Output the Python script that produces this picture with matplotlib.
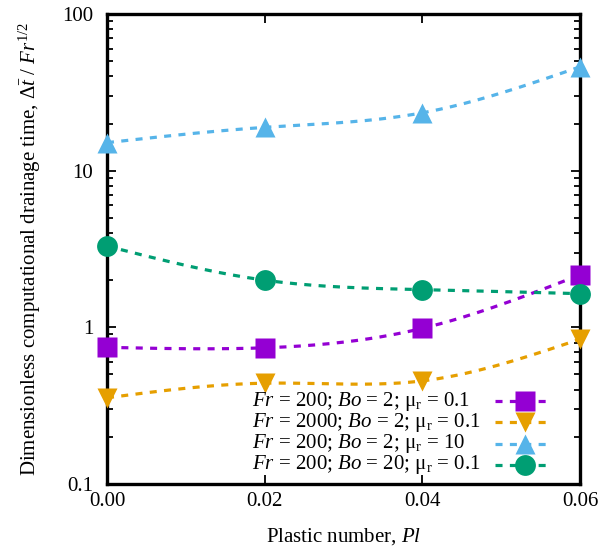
import numpy as np
import matplotlib.pyplot as plt
from matplotlib.ticker import LogLocator, FixedLocator, NullFormatter

# data
pl = [0.00, 0.02, 0.04, 0.06]
t_fr200_bo2 = [0.745, 0.74, 0.985, 2.16]
t_fr2000_bo2 = [0.355, 0.44, 0.455, 0.84]
t_mu10 = [15.1, 18.9, 23.4, 46.0]
t_bo20 = [3.30, 2.00, 1.74, 1.64]

labels = [r'$\it{Fr}$ = 200; $\it{Bo}$ = 2; $\mathrm{\mu_r}$ = 0.1',
          r'$\it{Fr}$ = 2000; $\it{Bo}$ = 2; $\mathrm{\mu_r}$ = 0.1',
          r'$\it{Fr}$ = 200; $\it{Bo}$ = 2; $\mathrm{\mu_r}$ = 10',
          r'$\it{Fr}$ = 200; $\it{Bo}$ = 20; $\mathrm{\mu_r}$ = 0.1']

# gnuplot-ish colours
col_purple = '#9400D3'
col_orange = '#E69F00'
col_blue = '#56B4E9'
col_green = '#009E73'

plt.rcParams.update({'font.family': 'Liberation Serif', 'font.size': 15,
                     'mathtext.fontset': 'custom',
                     'mathtext.rm': 'Liberation Serif',
                     'mathtext.it': 'Liberation Serif:italic',
                     'mathtext.bf': 'Liberation Serif:bold'})


def csplines(x, y, n=200):
    # natural cubic spline through the points (smooth csplines in gnuplot)
    x = np.asarray(x, float)
    y = np.asarray(y, float)
    k = len(x)
    h = np.diff(x)
    A = np.zeros((k, k))
    b = np.zeros(k)
    A[0, 0] = A[-1, -1] = 1
    for i in range(1, k - 1):
        A[i, i - 1] = h[i - 1]
        A[i, i] = 2 * (h[i - 1] + h[i])
        A[i, i + 1] = h[i]
        b[i] = 6 * ((y[i + 1] - y[i]) / h[i] - (y[i] - y[i - 1]) / h[i - 1])
    M = np.linalg.solve(A, b)
    xs = np.linspace(x[0], x[-1], n)
    idx = np.clip(np.searchsorted(x, xs) - 1, 0, k - 2)
    x0, x1 = x[idx], x[idx + 1]
    hh = x1 - x0
    a = (x1 - xs) / hh
    c = (xs - x0) / hh
    ys = (a * y[idx] + c * y[idx + 1]
          + ((a ** 3 - a) * M[idx] + (c ** 3 - c) * M[idx + 1]) * hh ** 2 / 6)
    return xs, ys


fig = plt.figure(figsize=(5.99, 5.54), dpi=100)
ax = fig.add_axes([0.1786, 0.1264, 0.7897, 0.8483])

series = [(t_fr200_bo2, col_purple, 's', 15),
          (t_fr2000_bo2, col_orange, 'v', 15),
          (t_mu10, col_blue, '^', 15),
          (t_bo20, col_green, 'o', 15)]
lw = 2.3
dash = (2.2, 2.3)

for vals, col, mk, ms in series:
    xs, ys = csplines(pl, np.log10(vals))
    ax.plot(xs, 10 ** ys, color=col, lw=lw, dashes=dash, zorder=2)
    ax.plot(pl, vals, ls='none', marker=mk, ms=ms, color=col, mec='none',
            zorder=3, clip_on=False)

# gnuplot style key: left-justified text, sample on the right
key_y = [0.176, 0.131, 0.086, 0.041]
for (vals, col, mk, ms), lab, yk in zip(series, labels, key_y):
    ax.text(0.307, yk, lab, transform=ax.transAxes, ha='left', va='center')
    ax.plot([0.820, 0.937], [yk, yk], transform=ax.transAxes, color=col,
            lw=lw, dashes=dash, zorder=4)
    ax.plot([0.884], [yk], transform=ax.transAxes, marker=mk, ms=ms,
            color=col, mec='none', zorder=5)

ax.set_yscale('log')
ax.set_xlim(0, 0.06)
ax.set_ylim(0.1, 100)
ax.xaxis.set_major_locator(FixedLocator([0, 0.02, 0.04, 0.06]))
ax.set_xticklabels(['0.00', '0.02', '0.04', '0.06'])
ax.yaxis.set_major_locator(FixedLocator([0.1, 1, 10, 100]))
ax.set_yticklabels(['0.1', '1', '10', '100'])
ax.yaxis.set_minor_locator(LogLocator(base=10, subs=np.arange(2, 10)))
ax.yaxis.set_minor_formatter(NullFormatter())

ax.tick_params(which='both', direction='in', top=True, right=True, width=1.3)
ax.tick_params(which='major', length=6.5)
ax.tick_params(which='minor', length=4)
ax.tick_params(axis='y', which='major', pad=10)
ax.tick_params(axis='x', which='major', pad=6)
for s in ax.spines.values():
    s.set_linewidth(2.4)

ax.set_xlabel(r'Plastic number, $\it{Pl}$', labelpad=11)
ax.set_ylabel(r'Dimensionless computational drainage time, '
              r'$\Delta\bar{t}$ / $\it{Fr}^{1/2}$', labelpad=14)

fig.savefig('out.png', dpi=100)
